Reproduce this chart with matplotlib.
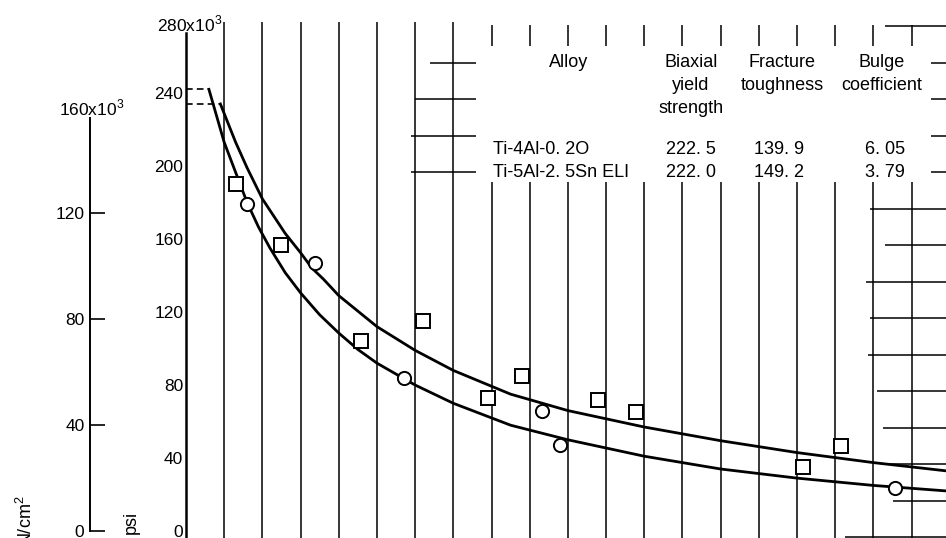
import matplotlib
matplotlib.use("Agg")
import matplotlib.pyplot as plt

plt.rcParams['font.family'] = ['Liberation Sans', 'DejaVu Sans']
plt.rcParams['mathtext.fontset'] = 'custom'
plt.rcParams['mathtext.rm'] = 'Liberation Sans'
NARROW = ['Liberation Sans Narrow', 'Liberation Sans', 'DejaVu Sans']

W, H = 946, 538

# ===== data: flaw size in grid divisions, stress in ksi =====
ksi_ticks = [0, 40, 80, 120, 160, 200, 240]
si_ticks = [0, 40, 80, 120]          # 10^3 N/cm^2

# fitted curve starting from the 242 ksi plateau
curve_a_x = [0.6, 1.0, 1.6, 1.9, 2.2, 2.6, 3.0, 3.5, 4.0, 4.5, 5.0, 6.0, 7.0, 8.5,
             10.0, 12.0, 14.0, 16.0, 18.0, 19.9]
curve_a_y = [242, 213, 180, 166.5, 155, 141.5, 130.5, 118.5, 108.5, 99.5, 92, 80, 70, 58,
             50, 41, 34, 29, 25, 22]

# fitted curve starting from the 234 ksi plateau
curve_b_x = [0.9, 1.3, 1.6, 2.0, 2.3, 2.6, 3.0, 3.3, 3.6, 4.0, 4.5, 5.0, 5.5, 6.0,
             7.0, 8.5, 10.0, 12.0, 14.0, 16.0, 18.0, 19.9]
curve_b_y = [234, 213, 199, 182, 172.5, 163, 152.5, 144, 138, 129, 120.5, 112, 105.5, 99,
             88, 75, 66, 57, 49.5, 43, 37.5, 33]

square_x = [1.31, 2.49, 4.58, 6.20, 7.91, 8.80, 10.79, 11.78, 16.15, 17.15]
square_y = [190, 157, 104, 115, 73, 85, 72, 65, 35, 46.5]

circle_x = [1.60, 3.38, 5.71, 9.32, 9.79, 18.56]
circle_y = [179, 147, 84, 66, 47, 23.5]

alloys = ["Ti-4Al-0. 2O", "Ti-5Al-2. 5Sn ELI"]
yield_strength = [222.5, 222.0]
toughness = [139.9, 149.2]
bulge_coef = [6.05, 3.79]

YMIN, YMAX = -3.8, 280
XMAX = 19.9
PSI_TO_SI = 0.6895


def fpx(x, y):
    """pixel position -> figure fraction"""
    return x / W, 1 - y / H


def spaced(v, nd):
    # typewriter style: blank after the decimal point
    return f"{v:.{nd}f}".replace('.', '. ')


fig = plt.figure(figsize=(W / 100, H / 100), dpi=100)
fig.patch.set_facecolor('white')

# ----- main psi axis -----
ax = fig.add_axes([186 / W, 0, (W - 186) / W, 518 / H])
ax.set_xlim(0, XMAX)
ax.set_ylim(YMIN, YMAX)
ax.patch.set_visible(False)
for s in ['top', 'right', 'bottom']:
    ax.spines[s].set_visible(False)
ax.spines['left'].set_linewidth(1.8)
ax.spines['left'].set_bounds(YMIN, 273)
ax.set_xticks([])
ax.set_yticks(ksi_ticks)
ax.set_yticklabels([str(t) for t in ksi_ticks], family=NARROW, fontsize=12.5)
ax.tick_params(axis='y', length=0, pad=2)

# graph paper grid
gk = dict(colors='k', lw=1.1)
ax.vlines(range(1, 8), YMIN, 279, **gk)
ax.vlines(range(8, 20), YMIN, 191, **gk)
ax.vlines(range(8, 20), 265.5, 277, **gk)
grid_segments = [
    (276.7, 18.3, XMAX),
    (256.7, 19.5, XMAX), (236.7, 19.5, XMAX), (216.7, 19.5, XMAX), (196.7, 19.5, XMAX),
    (256.7, 6.4, 7.6), (236.7, 6.0, 7.6), (216.7, 5.9, 7.6), (196.7, 5.9, 7.6),
    (176.7, 17.9, XMAX), (156.7, 18.3, XMAX), (136.7, 17.8, XMAX), (116.7, 17.9, XMAX),
    (96.7, 17.85, XMAX), (76.7, 18.1, XMAX), (56.7, 18.25, XMAX), (36.7, 18.2, XMAX),
    (16.7, 18.5, XMAX), (-3.3, 17.25, XMAX),
]
for yv, x0, x1 in grid_segments:
    ax.hlines(yv, x0, x1, **gk)

# plateaus and curves
dash = (0, (4, 2.5))
ax.plot([0, curve_a_x[0]], [curve_a_y[0]] * 2, ls=dash, lw=1.2, color='k')
ax.plot([0, curve_b_x[0]], [curve_b_y[0]] * 2, ls=dash, lw=1.2, color='k')
ax.plot(curve_a_x, curve_a_y, color='k', lw=2.0, solid_joinstyle='round')
ax.plot(curve_b_x, curve_b_y, color='k', lw=2.0, solid_joinstyle='round')

ax.plot(square_x, square_y, ls='none', marker='s', ms=9.5, mfc='white',
        mec='k', mew=1.4, zorder=5)
ax.plot(circle_x, circle_y, ls='none', marker='o', ms=9.5, mfc='white',
        mec='k', mew=1.4, zorder=5)

fig.text(*fpx(190, 24), "280x10$^\\mathregular{3}$", ha='center', va='center',
         family=NARROW, fontsize=12.5)

# ----- SI axis -----
si_lo = YMIN * PSI_TO_SI
si_hi = YMAX * PSI_TO_SI
ax2 = fig.add_axes([90 / W, 0, 0.05, 518 / H])
ax2.set_ylim(si_lo, si_hi)
ax2.patch.set_visible(False)
for s in ['top', 'right', 'bottom']:
    ax2.spines[s].set_visible(False)
ax2.spines['left'].set_linewidth(1.4)
ax2.spines['left'].set_bounds(0, 156)
ax2.set_xticks([])
ax2.set_yticks(si_ticks)
ax2.set_yticklabels([str(t) for t in si_ticks], family=NARROW, fontsize=12.5)
ax2.tick_params(axis='y', direction='in', length=11, width=1.2, pad=4)

fig.text(*fpx(92, 108), "160x10$^\\mathregular{3}$", ha='center', va='center',
         family=NARROW, fontsize=12.5)
fig.text(*fpx(26, 521), "N/cm$^\\mathregular{2}$", rotation=90, ha='center',
         va='center', family=NARROW, fontsize=13)
fig.text(*fpx(131, 522), "psi", rotation=90, ha='center', va='center',
         family=NARROW, fontsize=13)

# ----- property table -----
tk = dict(fontsize=13, va='baseline')
fig.text(*fpx(569, 67), "Alloy", ha='center', **tk)
for txt, yb in zip(["Biaxial", "yield", "strength"], [67, 90, 113]):
    fig.text(*fpx(691, yb), txt, ha='center', **tk)
for txt, yb in zip(["Fracture", "toughness"], [67, 90]):
    fig.text(*fpx(782, yb), txt, ha='center', **tk)
for txt, yb in zip(["Bulge", "coefficient"], [67, 90]):
    fig.text(*fpx(882, yb), txt, ha='center', **tk)

for i, yb in enumerate([154, 177]):
    fig.text(*fpx(493, yb), alloys[i], ha='left', **tk)
    fig.text(*fpx(691, yb), spaced(yield_strength[i], 1), ha='center', **tk)
    fig.text(*fpx(779, yb), spaced(toughness[i], 1), ha='center', **tk)
    fig.text(*fpx(885, yb), spaced(bulge_coef[i], 2), ha='center', **tk)

fig.savefig("out.png", dpi=100)
